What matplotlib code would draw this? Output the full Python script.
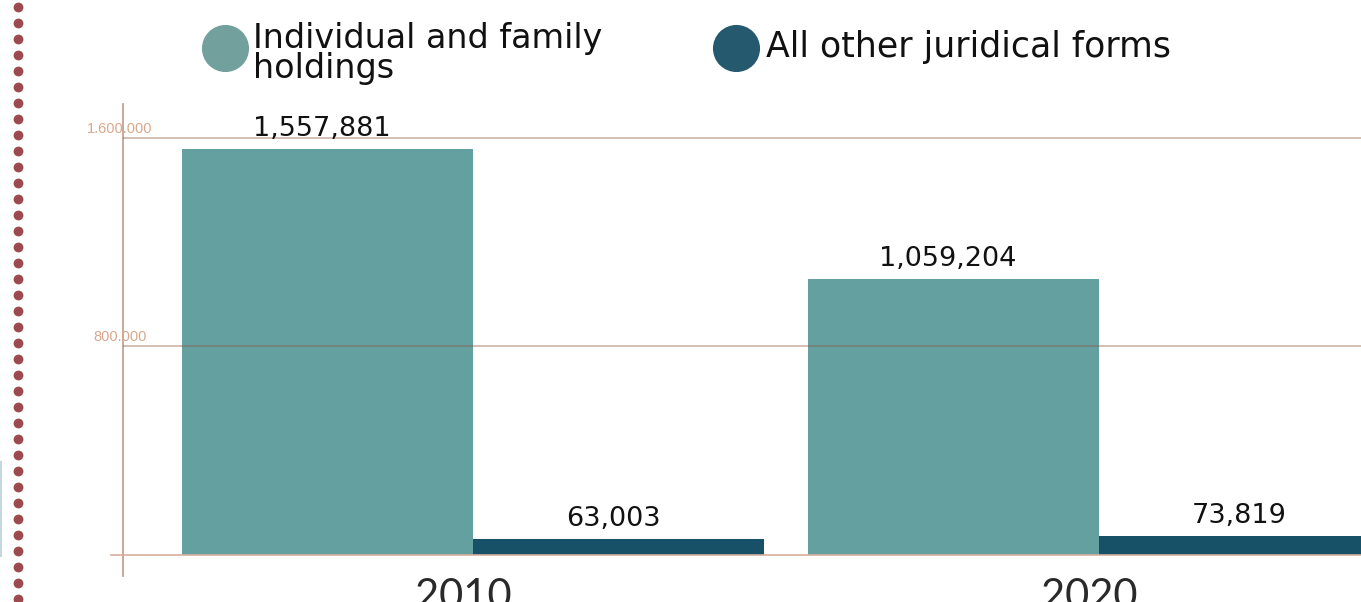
import numpy as np
import matplotlib
matplotlib.use("Agg")
import matplotlib.pyplot as plt
from matplotlib.transforms import blended_transform_factory, offset_copy

# Data
years = ["2010", "2020"]
series_names = ["Individual and family\nholdings", "All other juridical forms"]
individual_family = [1557881, 1059204]
other_forms = [63003, 73819]
ytick_values = [800000, 1600000]
ytick_labels = ["800.000", "1.600.000"]

TEAL = "#65A0A0"
NAVY = "#175168"
TEAL_LEG = "#72A09C"
NAVY_LEG = "#255A6E"
GRID = "#8B5A40"
AXIS = "#C2A392"
TICK_TXT = "#D9A88C"
HAND = "DejaVu Sans"

W, H = 1361, 602
fig = plt.figure(figsize=(W / 100, H / 100), dpi=100)

# Decoration layer in pixel coordinates
deco = fig.add_axes([0, 0, 1, 1], zorder=0)
deco.set_xlim(0, W)
deco.set_ylim(H, 0)
deco.axis("off")
dot_y = np.arange(7, H + 8, 16)
deco.scatter(np.full_like(dot_y, 18), dot_y, s=50, color="#9C4A4E", lw=0)
deco.plot([0.8, 0.8], [462, 556], color="#C8D6DE", lw=1.5)

# Legend
leg_font = dict(family=HAND, fontsize=24, color="#111111")
deco.scatter([225], [48], s=1150, color=TEAL_LEG, lw=0)
deco.text(253, 78, series_names[0], va="baseline", ha="left",
          linespacing=0.88, **leg_font)
deco.scatter([736], [48], s=1150, color=NAVY_LEG, lw=0)
deco.text(766, 57, series_names[1], va="baseline", ha="left",
          family=HAND, fontsize=25, color="#111111")

# Main chart
ax = fig.add_axes([123 / W, (H - 576) / H, (W - 123) / W, 472 / H], zorder=1)
ax.patch.set_alpha(0)

x = np.arange(len(years))
bw = 0.465
b1 = ax.bar(x - bw / 2, individual_family, width=bw, color=TEAL, zorder=2)
b2 = ax.bar(x + bw / 2, other_forms, width=bw, color=NAVY, zorder=2)

ax.set_xlim(-0.559, 1.4185)
ax.set_ylim(-80576, 1730456)

for v in ytick_values:
    ax.axhline(v, color=GRID, alpha=0.45, lw=1.2, zorder=3)
ax.axhline(0, xmin=-0.0097, xmax=1, color="#D7AE9E", lw=1.2, zorder=3,
           clip_on=False)

for s in ["top", "right", "bottom"]:
    ax.spines[s].set_visible(False)
ax.spines["left"].set_color(AXIS)
ax.spines["left"].set_linewidth(1.3)
ax.set_xticks([])
ax.set_yticks([])

tr = offset_copy(blended_transform_factory(ax.transAxes, ax.transData),
                 fig=fig, x=-3, y=2, units="dots")
for v, lab in zip(ytick_values, ytick_labels):
    ax.text(0, v, lab, transform=tr, ha="center", va="bottom",
            family="Liberation Sans", fontsize=10.5, color=TICK_TXT,
            zorder=4)

# Value labels
for bars, vals in ((b1, individual_family), (b2, other_forms)):
    for rect, v in zip(bars, vals):
        ax.annotate(f"{v:,}", (rect.get_x() + rect.get_width() / 2, v),
                    xytext=(-4, 5), textcoords="offset points",
                    ha="center", va="bottom", family=HAND, fontsize=19.5,
                    color="#111111", zorder=4, annotation_clip=False)

# Year labels
trx = blended_transform_factory(ax.transData, ax.transAxes)
for xi, yr in zip(x, years):
    ax.text(xi - 0.015, -0.07, yr, transform=trx, ha="center",
            va="baseline", family="Lato", fontsize=30, color="#2A2A2A",
            clip_on=False)

fig.savefig("out.png", dpi=100)
